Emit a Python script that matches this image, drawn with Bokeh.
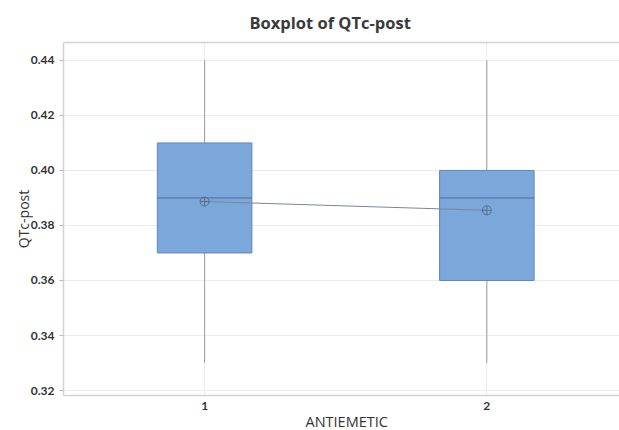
from bokeh.plotting import figure
from bokeh.models import Range1d, LinearAxis, FixedTicker, NumeralTickFormatter, Title
from bokeh.embed import file_html
from bokeh.resources import INLINE

# Data
groups = [1, 2]
group_labels = ["1", "2"]
q1 = [0.37, 0.36]
median = [0.39, 0.39]
q3 = [0.41, 0.40]
whisker_low = [0.33, 0.33]
whisker_high = [0.44, 0.44]
means = [0.3887, 0.3855]
y_ticks = [0.32, 0.34, 0.36, 0.38, 0.40, 0.42, 0.44]
x_title = "ANTIEMETIC"
y_title = "QTc-post"

FONT = "Open Sans"
TICK_FONT = "Lato"
BOX_W = 0.335

p = figure(width=619, height=430, output_backend="svg", toolbar_location=None,
           x_range=Range1d(0.5, 2.47), y_range=Range1d(0.3182, 0.4465),
           min_border_left=63, min_border_right=0, min_border_top=41, min_border_bottom=35)

p.title.text = "Boxplot of QTc-post"
p.title.align = "left"
p.title.text_font = FONT
p.title.text_font_size = "16.5px"
p.title.text_font_style = "bold"
p.title.text_color = "#3a3a3a"
p.title.offset = 186
p.title.standoff = 17

p.outline_line_color = None
p.background_fill_color = "white"
p.border_fill_color = "white"

# grid
p.xgrid.ticker = FixedTicker(ticks=groups)
p.xgrid.grid_line_color = "#ececec"
p.ygrid.ticker = FixedTicker(ticks=y_ticks)
p.ygrid.grid_line_color = "#ececec"

# axes
p.yaxis.ticker = FixedTicker(ticks=y_ticks)
p.yaxis.formatter = NumeralTickFormatter(format="0.00")
p.xaxis.ticker = FixedTicker(ticks=groups)
p.xaxis.major_label_overrides = {g: lab for g, lab in zip(groups, group_labels)}
for ax in [p.xaxis[0], p.yaxis[0]]:
    ax.axis_line_color = "#d2d2d2"
    ax.axis_line_width = 1.5
    ax.major_tick_line_color = "#bdbdbd"
    ax.minor_tick_line_color = None
    ax.major_label_text_font = TICK_FONT
    ax.major_label_text_font_size = "12px"
    ax.major_label_text_font_style = "bold"
    ax.major_label_text_color = "#333333"
    ax.axis_label_text_font = FONT
    ax.axis_label_text_font_style = "normal"
    ax.axis_label_text_color = "#333333"
p.yaxis.axis_label_text_font_size = "14px"
p.yaxis.major_tick_out = 4
p.yaxis.major_tick_in = 0
p.xaxis.major_tick_out = 0
p.xaxis.major_tick_in = 0
p.xaxis.major_label_standoff = 6
p.yaxis.axis_label = y_title
p.yaxis.axis_label_standoff = -5
p.yaxis.major_label_standoff = 5

# x axis title as a title panel below the axis
p.add_layout(Title(text=x_title, align="left", offset=242, standoff=-6,
                   text_font=FONT, text_font_size="14.5px", text_font_style="normal",
                   text_color="#333333"), "below")

# top border line
top_ax = LinearAxis(axis_line_color="#d2d2d2", axis_line_width=1.5, major_tick_line_color=None,
                    minor_tick_line_color=None, major_label_text_font_size="0px",
                    major_label_text_alpha=0, ticker=FixedTicker(ticks=[]))
p.add_layout(top_ax, "above")

# whiskers
p.segment(x0=groups, y0=q3, x1=groups, y1=whisker_high, line_color="#9a9a9a", line_width=1)
p.segment(x0=groups, y0=q1, x1=groups, y1=whisker_low, line_color="#9a9a9a", line_width=1)

# boxes
p.vbar(x=groups, width=BOX_W, bottom=q1, top=q3, fill_color="#7BA7DB",
       line_color="#6287BB", line_width=1)

# medians
x0m = [g - BOX_W / 2 for g in groups]
x1m = [g + BOX_W / 2 for g in groups]
p.segment(x0=x0m, y0=median, x1=x1m, y1=median, line_color="#4F6E9C", line_width=1)

# mean connect line and symbols
p.line(x=groups, y=means, line_color="#7a8596", line_width=1)
p.scatter(x=groups, y=means, marker="circle_cross", size=9, fill_color=None,
          line_color="#5b6f8e", line_width=1)

open("out.html", "w").write(file_html(p, INLINE))
